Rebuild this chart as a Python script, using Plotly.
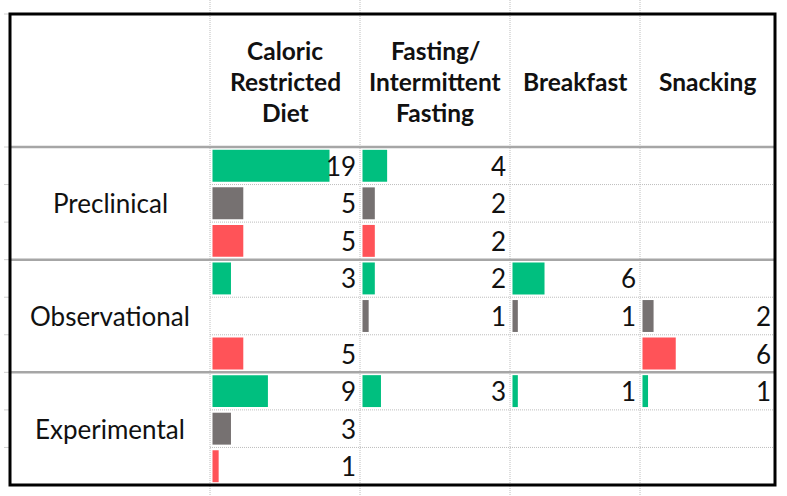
import plotly.graph_objects as go

# ---------------- data ----------------
groups = ["Preclinical", "Observational", "Experimental"]
outcomes = ["Green", "Grey", "Red"]          # three sub-rows per study type
columns = ["Caloric\nRestricted\nDiet", "Fasting/\nIntermittent\nFasting", "Breakfast", "Snacking"]

# 9 values per column: Preclinical(G,Gr,R), Observational(G,Gr,R), Experimental(G,Gr,R)
caloric_restricted = [19, 5, 5, 3, None, 5, 9, 3, 1]
fasting_intermittent = [4, 2, 2, 2, 1, None, 3, None, None]
breakfast = [None, None, None, 6, 1, None, 1, None, None]
snacking = [None, None, None, None, 2, 6, 1, None, None]
col_values = [caloric_restricted, fasting_intermittent, breakfast, snacking]

outcome_colors = {"Green": "#00BF7F", "Grey": "#767171", "Red": "#FF5358"}

# ---------------- layout geometry (pixels) ----------------
W, H = 787, 496
BX0, BX1, BY0, BY1 = 10, 775, 14, 485
HEADER_BOTTOM = 147
col_edges = [210, 360, 510, 640, 775]
n_rows = len(groups) * len(outcomes)
row_h = (BY1 - HEADER_BOTTOM) / n_rows

FONT = "Lato"

def px(x):
    return x / W

def py(y):
    return 1 - y / H

vmax = max(v for col in col_values for v in col if v is not None)

fig = go.Figure()
rows = list(range(n_rows))
row_colors = [outcome_colors[outcomes[i % 3]] for i in rows]

annotations = []
for i, vals in enumerate(col_values):
    ax = "x" if i == 0 else f"x{i+1}"
    L, R = col_edges[i], col_edges[i + 1]
    width = R - L
    ppu = 0.78 * width / vmax
    xr = [-2.5 / ppu, (width - 2.5) / ppu]
    fig.add_trace(go.Bar(
        x=vals, y=rows, orientation="h", width=0.85,
        marker=dict(color=row_colors, line=dict(width=0)),
        xaxis=ax, yaxis="y", showlegend=False, hoverinfo="x",
    ))
    key = "xaxis" if i == 0 else f"xaxis{i+1}"
    fig.layout[key] = dict(domain=[px(L), px(R)], range=xr, visible=False,
                           anchor="y", fixedrange=True)
    for r, v in enumerate(vals):
        if v is None:
            continue
        annotations.append(dict(
            x=xr[1], y=r, xref=ax, yref="y", text=str(v), showarrow=False,
            xanchor="right", yanchor="middle", xshift=-2,
            font=dict(family=FONT, size=26, color="#111111"),
        ))
    # header text, one annotation per line
    lines = columns[i].split("\n")
    hc = (BY0 + HEADER_BOTTOM) / 2 + 1
    spacing = 31.5
    for k, line in enumerate(lines):
        yc = hc + (k - (len(lines) - 1) / 2) * spacing
        annotations.append(dict(
            x=px((L + R) / 2), y=py(yc), xref="paper", yref="paper",
            text=f"<b>{line}</b>", showarrow=False, xanchor="center", yanchor="middle",
            font=dict(family=FONT, size=24.5, color="#111111"),
        ))

# group labels
for g, name in enumerate(groups):
    annotations.append(dict(
        x=px((BX0 + col_edges[0]) / 2), y=g * 3 + 1, xref="paper", yref="y",
        text=name, showarrow=False, xanchor="center", yanchor="middle",
        font=dict(family=FONT, size=26, color="#111111"),
    ))

fig.update_layout(
    yaxis=dict(domain=[py(BY1), py(HEADER_BOTTOM)], range=[n_rows - 0.5, -0.5],
               visible=False, fixedrange=True),
)

DOT = "1px,1px"
shapes = []
# vertical dotted column dividers
for x in col_edges[:-1]:
    shapes.append(dict(type="line", xref="paper", yref="paper",
                       x0=px(x), x1=px(x), y0=py(0), y1=py(H),
                       line=dict(color="#BDBDBD", width=1, dash=DOT), layer="below"))
# row boundaries
for k in range(1, n_rows):
    y = HEADER_BOTTOM + k * row_h
    if k % 3 == 0:
        shapes.append(dict(type="line", xref="paper", yref="paper",
                           x0=px(BX0), x1=px(BX1), y0=py(y), y1=py(y),
                           line=dict(color="#A6A6A6", width=2.5)))
    else:
        shapes.append(dict(type="line", xref="paper", yref="paper",
                           x0=px(col_edges[0]), x1=px(BX1), y0=py(y), y1=py(y),
                           line=dict(color="#BDBDBD", width=1, dash=DOT), layer="below"))
    shapes.append(dict(type="line", xref="paper", yref="paper",
                       x0=px(4), x1=px(BX0), y0=py(y), y1=py(y),
                       line=dict(color="#D0D0D0", width=1)))
# header separator
shapes.append(dict(type="line", xref="paper", yref="paper",
                   x0=px(BX0), x1=px(BX1), y0=py(HEADER_BOTTOM), y1=py(HEADER_BOTTOM),
                   line=dict(color="#A6A6A6", width=2.5)))
for y in (BY0, HEADER_BOTTOM):
    shapes.append(dict(type="line", xref="paper", yref="paper",
                       x0=px(4), x1=px(BX0), y0=py(y), y1=py(y),
                       line=dict(color="#D0D0D0", width=1)))
# outer border
shapes.append(dict(type="rect", xref="paper", yref="paper",
                   x0=px(BX0), x1=px(BX1), y0=py(BY1), y1=py(BY0),
                   line=dict(color="#000000", width=3)))

fig.update_layout(
    width=W, height=H, margin=dict(l=0, r=0, t=0, b=0),
    paper_bgcolor="white", plot_bgcolor="rgba(0,0,0,0)",
    annotations=annotations, shapes=shapes, barmode="overlay",
    font=dict(family=FONT),
)

fig.write_html(
    "out.html",
    config={"displayModeBar": False, "staticPlot": False},
    post_script="document.body.style.margin='0';document.body.style.padding='0';"
                "document.body.style.overflow='hidden';",
)
